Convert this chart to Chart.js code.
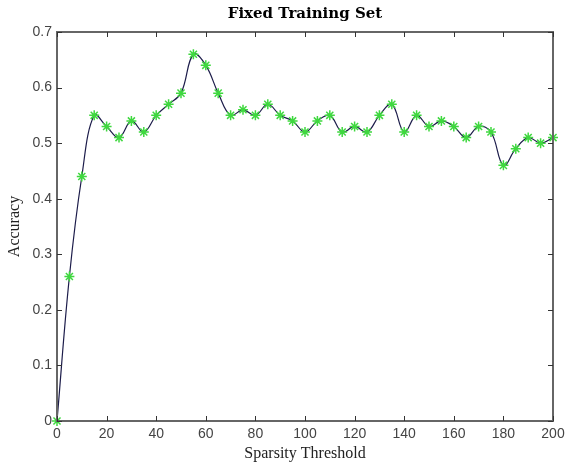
<!DOCTYPE html>
<html>
<head>
<meta charset="utf-8">
<script src="https://cdn.jsdelivr.net/npm/chart.js@4/dist/chart.umd.min.js"></script>
<style>
html,body{margin:0;padding:0;background:#fff;}
#wrap{width:566px;height:466px;}
</style>
</head>
<body>
<div id="wrap"><canvas id="c" width="566" height="466"></canvas></div>
<script>
const thresholds = [0,5,10,15,20,25,30,35,40,45,50,55,60,65,70,75,80,85,90,95,100,105,110,115,120,125,130,135,140,145,150,155,160,165,170,175,180,185,190,195,200];
const accuracy = [0,0.26,0.44,0.55,0.53,0.51,0.54,0.52,0.55,0.57,0.59,0.66,0.64,0.59,0.55,0.56,0.55,0.57,0.55,0.54,0.52,0.54,0.55,0.52,0.53,0.52,0.55,0.57,0.52,0.55,0.53,0.54,0.53,0.51,0.53,0.52,0.46,0.49,0.51,0.50,0.51];
const xTicks = [0,20,40,60,80,100,120,140,160,180,200];
const yTicks = [0,0.1,0.2,0.3,0.4,0.5,0.6,0.7];

const frame = {
  id:'frame',
  afterDatasetsDraw(chart){
    const {ctx, chartArea:a, scales:{x,y}} = chart;
    ctx.save();
    ctx.strokeStyle='#666';
    ctx.lineWidth=2;
    ctx.strokeRect(a.left, a.top, a.right-a.left, a.bottom-a.top);
    ctx.strokeStyle='#333';
    ctx.lineWidth=1;
    ctx.beginPath();
    xTicks.forEach(v=>{const p=Math.round(x.getPixelForValue(v))+0.5;
      ctx.moveTo(p,a.bottom);ctx.lineTo(p,a.bottom-5);
      ctx.moveTo(p,a.top);ctx.lineTo(p,a.top+5);});
    yTicks.forEach(v=>{const p=Math.round(y.getPixelForValue(v))+0.5;
      ctx.moveTo(a.left,p);ctx.lineTo(a.left+5,p);
      ctx.moveTo(a.right,p);ctx.lineTo(a.right-5,p);});
    ctx.stroke();
    ctx.restore();
  }
};

new Chart(document.getElementById('c'), {
  type:'line',
  data:{
    datasets:[{
      data: thresholds.map((t,i)=>({x:t,y:accuracy[i]})),
      borderColor:'#1c1c4a',
      borderWidth:1.2,
      tension:0.4,
      pointStyle:'star',
      pointRadius:5,
      pointBorderColor:'#3fd83f',
      pointBackgroundColor:'#3fd83f',
      pointBorderWidth:1.5,
      clip:false
    }]
  },
  options:{
    responsive:false,
    animation:false,
    layout:{padding:{left:0,right:13,top:0,bottom:0}},
    plugins:{
      legend:{display:false},
      tooltip:{enabled:false},
      title:{display:true,fullSize:false,text:'Fixed Training Set',color:'#000',
        font:{family:'DejaVu Serif',size:15,weight:'bold'},padding:{top:5,bottom:9}}
    },
    scales:{
      x:{type:'linear',min:0,max:200,
        afterBuildTicks(s){s.ticks=xTicks.map(v=>({value:v}));},
        afterFit(s){s.height=45;s.paddingRight=0;s.paddingLeft=0;},
        grid:{display:false,drawTicks:false},
        border:{display:false},
        ticks:{color:'#444',font:{family:'Liberation Sans',size:14},padding:5,maxRotation:0,autoSkip:false},
        title:{display:true,text:'Sparsity Threshold',color:'#222',font:{family:'Liberation Serif',size:16},padding:{top:0,bottom:3}}
      },
      y:{type:'linear',min:0,max:0.7,
        afterBuildTicks(s){s.ticks=yTicks.map(v=>({value:v}));},
        afterFit(s){s.width=57;},
        grid:{display:false,drawTicks:false},
        border:{display:false},
        ticks:{color:'#444',font:{family:'Liberation Sans',size:14},padding:5,
          callback:v=>String(+v.toFixed(1))},
        title:{display:true,text:'Accuracy',color:'#222',font:{family:'Liberation Serif',size:16},padding:{top:5,bottom:0}}
      }
    }
  },
  plugins:[frame]
});
</script>
</body>
</html>
